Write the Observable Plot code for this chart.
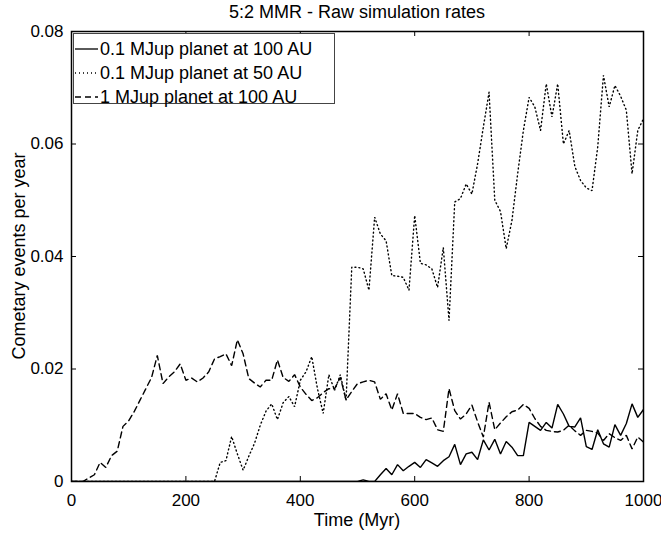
<!DOCTYPE html>
<html><head><meta charset="utf-8">
<script src="https://cdn.jsdelivr.net/npm/d3@7"></script>
<script src="https://cdn.jsdelivr.net/npm/@observablehq/plot@0.6"></script>
<style>
body{margin:0;background:#fff;font-family:"Liberation Sans",Arial,sans-serif;color:#000}
#wrap{position:relative;width:661px;height:533px;overflow:hidden}
#title{position:absolute;top:1px;left:71px;width:572px;text-align:center;font-size:18px;line-height:22px;white-space:nowrap}
#xlabel{position:absolute;top:509px;left:71px;width:572px;text-align:center;font-size:18px;line-height:22px;white-space:nowrap}
#ylabel{position:absolute;left:19px;top:256px;transform:translate(-50%,-50%) rotate(-90deg);font-size:18px;line-height:22px;white-space:nowrap}
#legend{position:absolute;left:73px;top:33px;width:262px;height:71px;border:1px solid #444;background:#fff;box-sizing:border-box;padding-top:3px}
.row{height:24px;display:flex;align-items:center;font-size:18px;white-space:nowrap}
.row svg{margin-left:1px;margin-right:2px;flex:none}
</style>
</head><body>
<div id="wrap">
  <div id="chart"></div>
  <div id="title"></div>
  <div id="xlabel"></div>
  <div id="ylabel"></div>
  <div id="legend"></div>
</div>
<script>
// ---- data ----
const titleText = "5:2 MMR - Raw simulation rates";
const xLabelText = "Time (Myr)";
const yLabelText = "Cometary events per year";
const seriesNames = ["0.1 MJup planet at 100 AU", "0.1 MJup planet at 50 AU", "1 MJup planet at 100 AU"];
const xTicks = [0, 200, 400, 600, 800, 1000];
const xTickLabels = ["0", "200", "400", "600", "800", "1000"];
const yTicks = [0, 0.02, 0.04, 0.06, 0.08];
const yTickLabels = ["0", "0.02", "0.04", "0.06", "0.08"];

// 0.1 MJup at 100 AU (solid)
const solidT = [0, 500, 510, 520, 530, 540, 550, 560, 570, 580, 590, 600, 610, 620, 630, 640, 650, 660, 670, 680, 690, 700, 710, 720, 730, 740, 750, 760, 770, 780, 790, 800, 810, 820, 830, 840, 850, 860, 870, 880, 890, 900, 910, 920, 930, 940, 950, 960, 970, 980, 990, 1000];
const solidV = [0, 0, 0.0003, 0, 0, 0.0012, 0.0023, 0.0012, 0.0030, 0.0019, 0.0027, 0.0034, 0.0025, 0.0039, 0.0033, 0.0027, 0.0037, 0.0044, 0.0066, 0.0030, 0.0049, 0.0052, 0.0039, 0.0074, 0.0056, 0.0075, 0.0049, 0.0071, 0.0061, 0.0046, 0.0046, 0.0105, 0.0098, 0.0091, 0.0105, 0.0095, 0.0137, 0.0120, 0.0098, 0.0097, 0.0113, 0.0062, 0.0057, 0.0092, 0.0067, 0.0061, 0.0101, 0.0082, 0.0103, 0.0138, 0.0114, 0.0128];

// 0.1 MJup at 50 AU (dotted)
const dottedT = [0, 250, 260, 270, 280, 290, 300, 310, 320, 330, 340, 350, 360, 370, 380, 390, 400, 410, 420, 430, 440, 450, 460, 470, 480, 490, 500, 510, 520, 530, 540, 550, 560, 570, 580, 590, 600, 610, 620, 630, 640, 650, 660, 670, 680, 690, 700, 710, 720, 730, 740, 750, 760, 770, 780, 790, 800, 810, 820, 830, 840, 850, 860, 870, 880, 890, 900, 910, 920, 930, 940, 950, 960, 970, 980, 990, 1000];
const dottedV = [0, 0, 0.0034, 0.0037, 0.0080, 0.0049, 0.0020, 0.0045, 0.0068, 0.0100, 0.0125, 0.0138, 0.0110, 0.0140, 0.0151, 0.0133, 0.0180, 0.0195, 0.0222, 0.0165, 0.0121, 0.0190, 0.0162, 0.0190, 0.0144, 0.0381, 0.0381, 0.0378, 0.0340, 0.0470, 0.0440, 0.0428, 0.0366, 0.0365, 0.0363, 0.0340, 0.0473, 0.0388, 0.0385, 0.0378, 0.0345, 0.0416, 0.0286, 0.0497, 0.0503, 0.0529, 0.0511, 0.0565, 0.0630, 0.0692, 0.0500, 0.0480, 0.0414, 0.0464, 0.0547, 0.0624, 0.0683, 0.0666, 0.0624, 0.0707, 0.0648, 0.0707, 0.0600, 0.0624, 0.0560, 0.0535, 0.0522, 0.0517, 0.0595, 0.0722, 0.0666, 0.0704, 0.0685, 0.0660, 0.0547, 0.0624, 0.0645];

// 1 MJup at 100 AU (dashed)
const dashedT = [0, 20, 30, 40, 50, 60, 70, 80, 90, 100, 110, 120, 130, 140, 150, 160, 170, 180, 190, 200, 210, 220, 230, 240, 250, 260, 270, 280, 290, 300, 310, 320, 330, 340, 350, 360, 370, 380, 390, 400, 410, 420, 430, 440, 450, 460, 470, 480, 490, 500, 510, 520, 530, 540, 550, 560, 570, 580, 590, 600, 610, 620, 630, 640, 650, 660, 670, 680, 690, 700, 710, 720, 730, 740, 750, 760, 770, 780, 790, 800, 810, 820, 830, 840, 850, 860, 870, 880, 890, 900, 910, 920, 930, 940, 950, 960, 970, 980, 990, 1000];
const dashedV = [0, 0, 0.0006, 0.0012, 0.0034, 0.0025, 0.0046, 0.0054, 0.0098, 0.0108, 0.0125, 0.0145, 0.0165, 0.0185, 0.0224, 0.0174, 0.0186, 0.0195, 0.0209, 0.0180, 0.0184, 0.0177, 0.0184, 0.0195, 0.0218, 0.0222, 0.0227, 0.0206, 0.0252, 0.0227, 0.0183, 0.0175, 0.0168, 0.0180, 0.0180, 0.0216, 0.0185, 0.0178, 0.0190, 0.0168, 0.0155, 0.0144, 0.0149, 0.0158, 0.0165, 0.0165, 0.0185, 0.0145, 0.0160, 0.0174, 0.0177, 0.0180, 0.0177, 0.0146, 0.0156, 0.0127, 0.0156, 0.0121, 0.0121, 0.0121, 0.0114, 0.0110, 0.0113, 0.0092, 0.0089, 0.0165, 0.0126, 0.0111, 0.0120, 0.0136, 0.0106, 0.0079, 0.0141, 0.0092, 0.0104, 0.0115, 0.0124, 0.0127, 0.0137, 0.0130, 0.0112, 0.0098, 0.0091, 0.0089, 0.0088, 0.0091, 0.0100, 0.0090, 0.0082, 0.0091, 0.0089, 0.0086, 0.0073, 0.0085, 0.0078, 0.0073, 0.0082, 0.0058, 0.0079, 0.0070];

// ---- build ----
const dashes = ["none", "1,3", "6,4"];
const toRows = (T, V) => T.map((t, i) => ({t, v: V[i]}));
const series = [toRows(solidT, solidV), toRows(dottedT, dottedV), toRows(dashedT, dashedV)];

const chart = Plot.plot({
  width: 661,
  height: 533,
  marginLeft: 71,
  marginRight: 18,
  marginTop: 31,
  marginBottom: 52,
  style: {fontFamily: "Liberation Sans, Arial, sans-serif", fontSize: "17px", background: "white", color: "black", overflow: "visible"},
  x: {domain: [0, 1000]},
  y: {domain: [0, 0.08]},
  marks: [
    ...series.map((data, i) => Plot.line(data, {
      x: "t", y: "v", stroke: "black", strokeWidth: 1.4,
      strokeDasharray: dashes[i], strokeLinejoin: "miter", clip: true
    })),
    Plot.tickX(xTicks, {x: d => d, insetTop: 445, stroke: "black"}),
    Plot.tickX(xTicks, {x: d => d, insetBottom: 445, stroke: "black"}),
    Plot.tickY(yTicks, {y: d => d, insetRight: 567, stroke: "black"}),
    Plot.tickY(yTicks, {y: d => d, insetLeft: 567, stroke: "black"}),
    Plot.axisX({ticks: xTicks, tickSize: 0, tickPadding: 12, fontSize: 17, label: null,
      tickFormat: d => xTickLabels[xTicks.indexOf(d)]}),
    Plot.axisY({ticks: yTicks, tickSize: 0, tickPadding: 8, fontSize: 17, label: null,
      tickFormat: d => yTickLabels[yTicks.indexOf(d)]}),
    Plot.frame({stroke: "black", strokeWidth: 1.5})
  ]
});
document.getElementById("chart").appendChild(chart);

document.getElementById("title").textContent = titleText;
document.getElementById("xlabel").textContent = xLabelText;
document.getElementById("ylabel").textContent = yLabelText;

const legend = document.getElementById("legend");
seriesNames.forEach((name, i) => {
  const row = document.createElement("div");
  row.className = "row";
  row.innerHTML = `<svg width="23" height="10"><line x1="0" y1="5" x2="23" y2="5" stroke="black" stroke-width="1.3" stroke-dasharray="${dashes[i]}"/></svg><span></span>`;
  row.querySelector("span").textContent = name;
  legend.appendChild(row);
});
</script>
</body></html>
